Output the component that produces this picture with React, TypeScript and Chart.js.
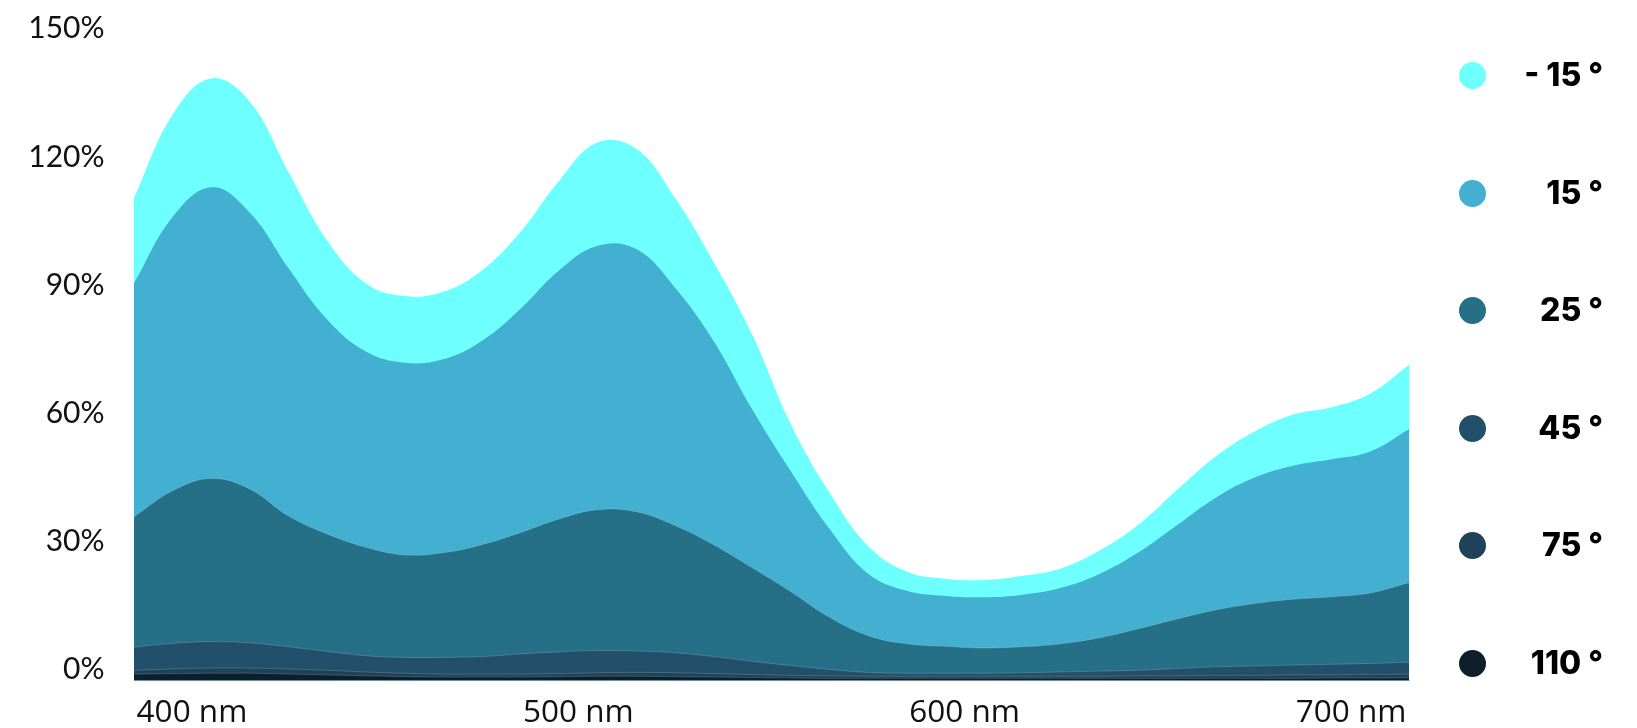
import React, { useEffect, useRef } from "react";
import { Chart, registerables } from "chart.js";

Chart.register(...registerables);

const WAVELENGTHS = [
  385, 395, 405, 415, 425, 435, 445, 455, 465, 475, 485, 495, 505, 515, 525, 535, 545,
  555, 565, 575, 585, 595, 605, 615, 625, 635, 645, 655, 665, 675, 685, 695, 705, 715,
];

const X_TICKS = [400, 500, 600, 700];
const Y_TICKS = [0, 30, 60, 90, 120, 150];

const SERIES_NAMES = ["- 15 °", "15 °", "25 °", "45 °", "75 °", "110 °"];
const SERIES_COLORS = ["#6effff", "#43afd1", "#256f87", "#22506a", "#1f425a", "#0c1f2b"];

const ANGLE_M15 = [
  113, 132.5, 141, 135.5, 119, 103, 93, 90, 91, 96, 105, 117, 126, 124.5, 113, 98, 81,
  60, 44, 31.5, 25.5, 23.8, 23.5, 24.5, 26.3, 30.5, 36.5, 44.7, 52.5, 58.3, 62.3, 64, 67.2, 73.9,
];
const ANGLE_15 = [
  93, 108.5, 115.5, 109.5, 96.5, 84.5, 77, 74.4, 75.2, 79.5, 87, 96, 101.8, 101, 92, 79.5, 63.5,
  49, 35.5, 25, 21, 19.8, 19.5, 20.1, 21.7, 25, 30, 36.4, 42.8, 47.5, 50.3, 51.8, 53.6, 58.8,
];
const ANGLE_25 = [
  38.3, 44.4, 47.3, 44.8, 38.5, 34.3, 31.2, 29.4, 29.9, 31.8, 34.6, 37.8, 40, 39.5, 36.3, 31.8, 26.4,
  20.8, 14.8, 10.5, 8.6, 8, 7.6, 7.9, 8.6, 10.0, 12.1, 14.4, 16.5, 18.0, 19.0, 19.6, 20.5, 22.9,
];
const ANGLE_45 = [
  7.8, 8.7, 9.1, 8.8, 7.9, 6.8, 5.8, 5.4, 5.4, 5.6, 6.2, 6.7, 7.0, 6.9, 6.5, 5.6, 4.5,
  3.5, 2.6, 1.9, 1.7, 1.7, 1.7, 1.8, 2.0, 2.2, 2.4, 2.8, 3.2, 3.4, 3.6, 3.8, 4.0, 4.3,
];
const ANGLE_75 = [
  2.4, 2.7, 2.9, 2.9, 2.7, 2.4, 2.0, 1.7, 1.5, 1.5, 1.5, 1.6, 1.8, 1.9, 1.8, 1.6, 1.4,
  1.2, 1.1, 1.0, 1.0, 1.0, 1.0, 1.0, 1.0, 1.0, 1.1, 1.1, 1.2, 1.2, 1.3, 1.3, 1.4, 1.5,
];
const ANGLE_110 = [
  1.5, 1.6, 1.7, 1.7, 1.5, 1.3, 1.1, 0.9, 0.8, 0.8, 0.8, 0.9, 1.0, 1.0, 0.9, 0.8, 0.7,
  0.6, 0.5, 0.5, 0.5, 0.5, 0.5, 0.5, 0.5, 0.5, 0.5, 0.5, 0.5, 0.5, 0.5, 0.6, 0.6, 0.6,
];

const SERIES_VALUES = [ANGLE_M15, ANGLE_15, ANGLE_25, ANGLE_45, ANGLE_75, ANGLE_110];

const W = 1637;
const H = 728;

export default function App() {
  const canvasRef = useRef<HTMLCanvasElement | null>(null);

  useEffect(() => {
    const canvas = canvasRef.current;
    if (!canvas) return;
    const datasets = SERIES_VALUES.map((vals, i) => ({
      label: SERIES_NAMES[i],
      data: WAVELENGTHS.map((x, j) => ({ x, y: vals[j] })),
      backgroundColor: SERIES_COLORS[i],
      borderColor: i >= 2 ? "rgba(255,255,255,0.18)" : SERIES_COLORS[i],
      borderWidth: i >= 2 ? 1 : 0,
      pointRadius: 0,
      pointHoverRadius: 0,
      tension: 0.4,
      fill: "start",
      order: SERIES_VALUES.length - i,
    }));
    const noPad = (s: any) => {
      s.paddingTop = 0;
      s.paddingBottom = 0;
      s.paddingLeft = 0;
      s.paddingRight = 0;
    };
    const chart = new Chart(canvas, {
      type: "line",
      data: { datasets },
      options: {
        responsive: false,
        animation: false,
        devicePixelRatio: 1,
        layout: { padding: { top: 39.8, right: 228, bottom: 0, left: 0 } },
        plugins: { legend: { display: false }, tooltip: { enabled: false } },
        scales: {
          x: {
            type: "linear",
            min: 385,
            max: 715,
            afterBuildTicks: (s: any) => {
              s.ticks = X_TICKS.map((v) => ({ value: v }));
            },
            afterFit: (s: any) => {
              s.height = 47.5;
              noPad(s);
            },
            grid: { display: false, drawTicks: false },
            border: { display: true, color: "#c3c7ca", width: 1 },
            ticks: {
              padding: 14,
              color: "#111",
              maxRotation: 0,
              autoSkip: false,
              font: { family: "'Open Sans'", size: 31.5 },
              callback: (v: any) => `${v} nm`,
            },
          },
          y: {
            min: 0,
            max: 150,
            afterBuildTicks: (s: any) => {
              s.ticks = Y_TICKS.map((v) => ({ value: v }));
            },
            afterFit: (s: any) => {
              s.width = 134;
              noPad(s);
            },
            grid: { display: false, drawTicks: false },
            border: { display: false },
            ticks: {
              padding: 29.5,
              labelOffset: -11,
              color: "#111",
              font: { family: "Lato", size: 30 },
              callback: (v: any) => `${v}%`,
            },
          },
        },
      },
    });
    return () => chart.destroy();
  }, []);

  const legendY = [75, 193, 310, 428, 545, 663];

  return (
    <div style={{ position: "fixed", left: 0, top: 0, width: W, height: H, background: "#fff" }}>
      <canvas ref={canvasRef} width={W} height={H} style={{ position: "absolute", left: 0, top: 0, width: W, height: H }} />
      {SERIES_NAMES.map((name, i) => (
        <div key={name}>
          <div
            style={{
              position: "absolute",
              left: 1472 - 13.5,
              top: legendY[i] - 13.5,
              width: 27,
              height: 27,
              borderRadius: "50%",
              background: SERIES_COLORS[i],
            }}
          />
          <div
            style={{
              position: "absolute",
              right: W - 1603,
              top: legendY[i] - 20,
              height: 40,
              lineHeight: "40px",
              fontFamily: "Inter, sans-serif",
              fontWeight: 800,
              fontSize: 32,
              color: "#000",
              whiteSpace: "pre",
              textAlign: "right",
            }}
          >
            {name}
          </div>
        </div>
      ))}
    </div>
  );
}
